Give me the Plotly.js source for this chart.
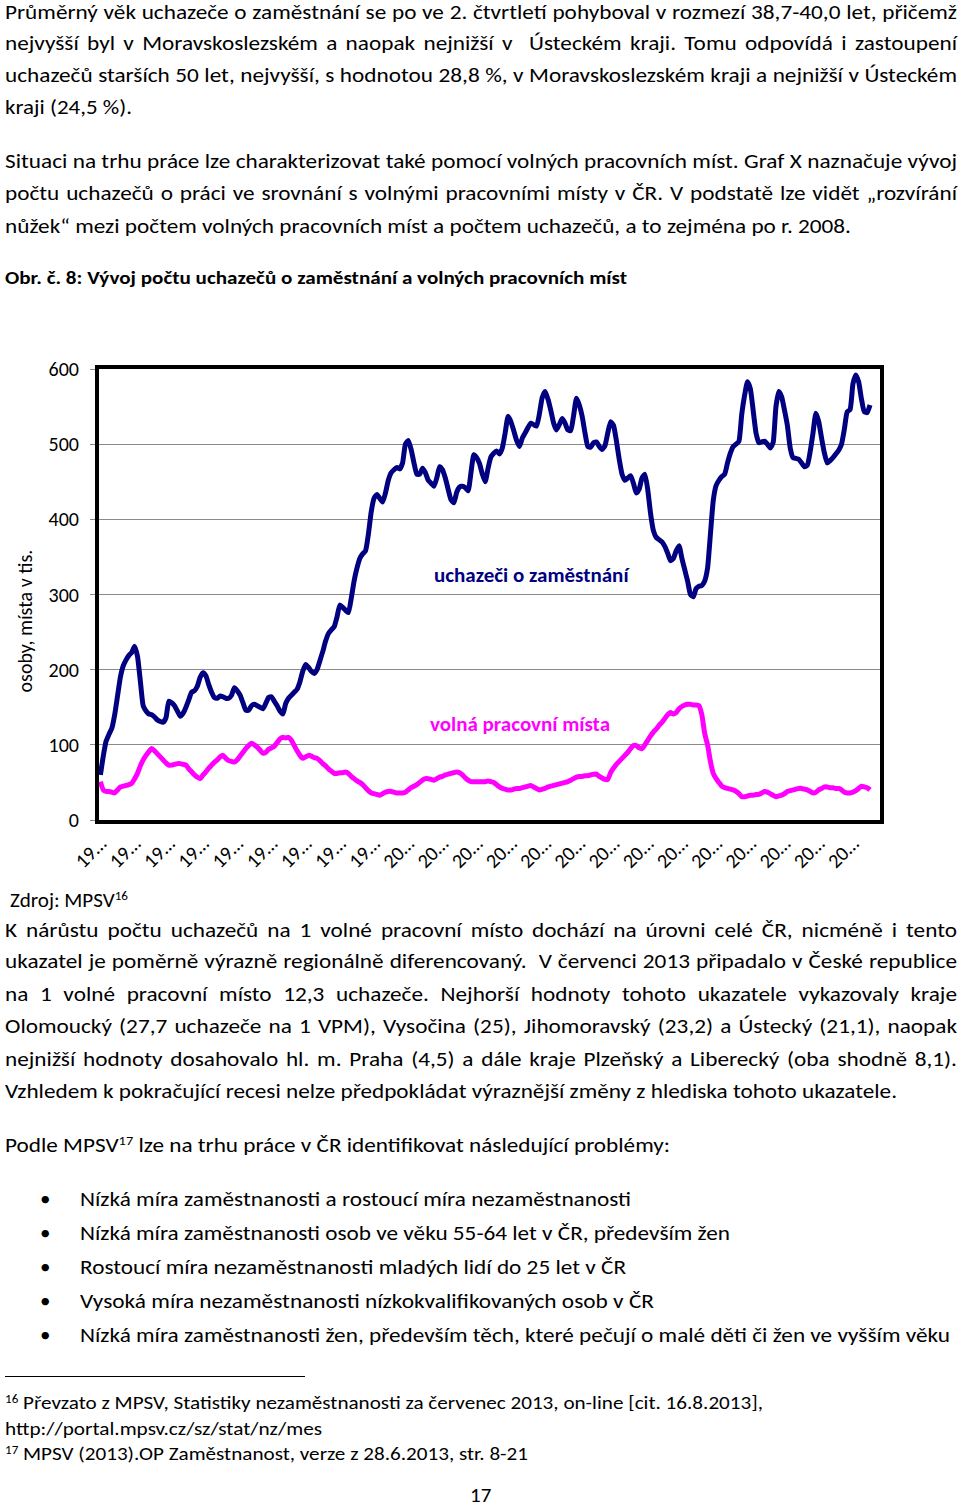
<!DOCTYPE html>
<html lang="cs">
<head>
<meta charset="utf-8">
<script src="https://cdn.plot.ly/plotly-3.0.1.min.js"></script>
<style>
  html, body { margin: 0; padding: 0; background: #fff; }
  body { width: 960px; height: 1505px; position: relative; overflow: hidden;
         font-family: Calibri, Carlito, Lato, sans-serif; color: #000; }
  .ln { position: absolute; white-space: pre; font-size: 21px; line-height: 24px;
        transform-origin: 0 50%; z-index: 2; }
  .b { font-weight: bold; font-size: 19px; }
  .fn { font-size: 19px; }
  .ln sup { font-size: 0.62em; position: relative; top: -0.55em; vertical-align: baseline; line-height: 0; }
  .bul { position: absolute; left: 40px; font-size: 21px; line-height: 24px; z-index: 2; }
  #rule { position: absolute; left: 5px; top: 1376px; width: 300px; height: 1px; background: #000; }
  #chart { position: absolute; left: 0; top: 330px; width: 960px; height: 560px; z-index: 1; }
</style>
</head>
<body>
<div class="ln j" data-w="952" style="left:5px;top:0px">Průměrný věk uchazeče o zaměstnání se po ve 2. čtvrtletí pohyboval v rozmezí 38,7-40,0 let, přičemž</div>
<div class="ln j" data-w="952" style="left:5px;top:31px">nejvyšší byl v Moravskoslezském a naopak nejnižší v  Ústeckém kraji. Tomu odpovídá i zastoupení</div>
<div class="ln j" data-w="952" style="left:5px;top:63px">uchazečů starších 50 let, nejvyšší, s hodnotou 28,8 %, v Moravskoslezském kraji a nejnižší v Ústeckém</div>
<div class="ln" data-w="127" style="left:5px;top:95px">kraji (24,5 %).</div>

<div class="ln j" data-w="952" style="left:5px;top:149px">Situaci na trhu práce lze charakterizovat také pomocí volných pracovních míst. Graf X naznačuje vývoj</div>
<div class="ln j" data-w="952" style="left:5px;top:181px">počtu uchazečů o práci ve srovnání s volnými pracovními místy v ČR. V podstatě lze vidět „rozvírání</div>
<div class="ln" data-w="846" style="left:5px;top:214px">nůžek“ mezi počtem volných pracovních míst a počtem uchazečů, a to zejména po r. 2008.</div>

<div class="ln b" data-w="622" style="left:5px;top:266px">Obr. č. 8: Vývoj počtu uchazečů o zaměstnání a volných pracovních míst</div>

<div id="chart"></div>

<div class="ln" data-w="118" style="left:10px;top:888px">Zdroj: MPSV<sup>16</sup></div>

<div class="ln j" data-w="952" style="left:5px;top:918px">K nárůstu počtu uchazečů na 1 volné pracovní místo dochází na úrovni celé ČR, nicméně i tento</div>
<div class="ln j" data-w="952" style="left:5px;top:949px">ukazatel je poměrně výrazně regionálně diferencovaný.  V červenci 2013 připadalo v České republice</div>
<div class="ln j" data-w="952" style="left:5px;top:982px">na 1 volné pracovní místo 12,3 uchazeče. Nejhorší hodnoty tohoto ukazatele vykazovaly kraje</div>
<div class="ln j" data-w="952" style="left:5px;top:1014px">Olomoucký (27,7 uchazeče na 1 VPM), Vysočina (25), Jihomoravský (23,2) a Ústecký (21,1), naopak</div>
<div class="ln j" data-w="952" style="left:5px;top:1047px">nejnižší hodnoty dosahovalo hl. m. Praha (4,5) a dále kraje Plzeňský a Liberecký (oba shodně 8,1).</div>
<div class="ln" data-w="892" style="left:5px;top:1079px">Vzhledem k pokračující recesi nelze předpokládat výraznější změny z hlediska tohoto ukazatele.</div>

<div class="ln" data-w="665" style="left:5px;top:1133px">Podle MPSV<sup>17</sup> lze na trhu práce v ČR identifikovat následující problémy:</div>

<div class="bul" style="top:1187px">•</div>
<div class="ln" data-w="551" style="left:80px;top:1187px">Nízká míra zaměstnanosti a rostoucí míra nezaměstnanosti</div>
<div class="bul" style="top:1221px">•</div>
<div class="ln" data-w="650" style="left:80px;top:1221px">Nízká míra zaměstnanosti osob ve věku 55-64 let v ČR, především žen</div>
<div class="bul" style="top:1255px">•</div>
<div class="ln" data-w="546" style="left:80px;top:1255px">Rostoucí míra nezaměstnanosti mladých lidí do 25 let v ČR</div>
<div class="bul" style="top:1289px">•</div>
<div class="ln" data-w="574" style="left:80px;top:1289px">Vysoká míra nezaměstnanosti nízkokvalifikovaných osob v ČR</div>
<div class="bul" style="top:1323px">•</div>
<div class="ln" data-w="870" style="left:80px;top:1323px">Nízká míra zaměstnanosti žen, především těch, které pečují o malé děti či žen ve vyšším věku</div>

<div id="rule"></div>
<div class="ln fn" data-w="758" style="left:5px;top:1391px"><sup>16</sup> Převzato z MPSV, Statistiky nezaměstnanosti za červenec 2013, on-line [cit. 16.8.2013],</div>
<div class="ln fn" data-w="317" style="left:5px;top:1417px">http://portal.mpsv.cz/sz/stat/nz/mes</div>
<div class="ln fn" data-w="523" style="left:5px;top:1442px"><sup>17</sup> MPSV (2013).OP Zaměstnanost, verze z 28.6.2013, str. 8-21</div>
<div class="ln" style="left:470px;top:1483px">17</div>

<script>
// ---- Data (thousands of persons), monthly Jan 1991 – Jul 2013 ----
var roky = [1991,1992,1993,1994,1995,1996,1997,1998,1999,2000,2001,2002,2003,2004,2005,2006,2007,2008,2009,2010,2011,2012,2013];
var tickLabels = ["19…","19…","19…","19…","19…","19…","19…","19…","19…",
                  "20…","20…","20…","20…","20…","20…","20…","20…","20…","20…","20…","20…","20…","20…"];

var uchazeci = [
  60, 85, 105, 114, 122, 140, 165, 190, 205, 213, 219, 223,   // 1991
  231, 218, 185, 152, 145, 141, 140, 137, 133, 131, 130, 136, // 1992
  158, 156, 152, 145, 138, 142, 150, 160, 170, 172, 178, 190, // 1993
  196, 192, 180, 170, 163, 162, 165, 164, 162, 162, 166, 176, // 1994
  172, 166, 156, 146, 146, 152, 154, 152, 150, 148, 155, 163, // 1995
  164, 158, 152, 145, 141, 155, 162, 166, 170, 174, 184, 198, // 1996
  207, 203, 198, 195, 200, 212, 224, 238, 248, 253, 257, 270, // 1997
  286, 283, 279, 276, 295, 318, 335, 348, 354, 358, 380, 410, // 1998
  428, 433, 428, 423, 435, 452, 462, 466, 469, 467, 475, 500, // 1999
  505, 493, 475, 460, 460, 468, 462, 452, 448, 444, 455, 470, // 2000
  466, 455, 440, 426, 422, 436, 443, 444, 442, 438, 462, 486, // 2001
  482, 474, 460, 450, 468, 483, 488, 491, 487, 495, 515, 537, // 2002
  530, 518, 505, 497, 508, 515, 522, 528, 526, 524, 540, 562, // 2003
  570, 560, 545, 528, 519, 526, 534, 528, 519, 518, 538, 561, // 2004
  552, 537, 515, 497, 496, 502, 503, 497, 493, 498, 515, 530, // 2005
  525, 505, 480, 460, 452, 455, 458, 448, 435, 440, 455, 460, // 2006
  440, 408, 385, 376, 373, 370, 364, 355, 345, 348, 358, 365, // 2007
  348, 333, 318, 300, 297, 308, 311, 312, 318, 335, 380, 425, // 2008
  445, 452, 457, 460, 475, 488, 497, 500, 504, 540, 565, 583, // 2009
  574, 545, 515, 502, 503, 504, 500, 495, 502, 550, 570, 563, // 2010
  545, 525, 495, 482, 481, 480, 475, 470, 472, 490, 515, 541, // 2011
  530, 508, 488, 475, 478, 482, 487, 492, 500, 520, 543, 546, // 2012
  580, 592, 583, 560, 543, 542, 552                          // 2013
];

var volnaMista = [
  51, 40, 38, 38, 37, 36, 40, 44, 45, 46, 47, 49,             // 1991
  55, 62, 72, 80, 86, 91, 95, 92, 88, 84, 80, 76,             // 1992
  73, 73, 74, 75, 75, 74, 73, 68, 64, 60, 57, 55,             // 1993
  60, 64, 69, 73, 77, 80, 84, 86, 82, 79, 78, 77,             // 1994
  80, 85, 90, 95, 99, 102, 100, 97, 93, 89, 90, 94,           // 1995
  96, 98, 103, 108, 110, 109, 110, 106, 99, 92, 86, 82,       // 1996
  84, 86, 85, 83, 82, 79, 75, 72, 68, 65, 62, 62,             // 1997
  63, 63, 64, 62, 58, 55, 52, 50, 47, 43, 39, 36,             // 1998
  35, 34, 33, 35, 37, 38, 38, 37, 36, 36, 36, 37,             // 1999
  40, 43, 45, 47, 50, 53, 55, 55, 54, 53, 55, 57,             // 2000
  58, 60, 61, 62, 63, 64, 63, 60, 56, 53, 51, 51,             // 2001
  51, 51, 51, 51, 52, 51, 50, 47, 44, 42, 41, 40,             // 2002
  40, 41, 42, 42, 43, 44, 45, 46, 44, 42, 40, 41,             // 2003
  42, 44, 45, 46, 47, 48, 49, 50, 51, 53, 55, 57,             // 2004
  58, 58, 59, 59, 60, 61, 61, 58, 56, 54, 54, 63,             // 2005
  69, 74, 78, 82, 86, 90, 95, 99, 99, 96, 95, 100,            // 2006
  106, 112, 117, 121, 126, 130, 135, 140, 143, 141, 143, 148, // 2007
  151, 153, 154, 154, 153, 153, 152, 140, 115, 100, 78, 62,   // 2008
  55, 50, 45, 43, 42, 41, 40, 38, 35, 31, 31, 32,             // 2009
  33, 33, 34, 34, 36, 38, 37, 35, 33, 31, 32, 33,             // 2010
  35, 38, 39, 40, 41, 42, 42, 41, 40, 38, 36, 37,             // 2011
  40, 42, 44, 44, 43, 43, 42, 42, 40, 37, 36, 36,             // 2012
  37, 39, 42, 45, 44, 43, 40                                  // 2013
];

var nazvySerii = ["uchazeči o zaměstnání", "volná pracovní místa"];

// Month categories (axis runs through Oct 2013)
var mesice = [];
roky.forEach(function (r) {
  for (var m = 1; m <= 12; m++) {
    if (r === 2013 && m > 10) break;
    mesice.push(r + "-" + (m < 10 ? "0" + m : m));
  }
});
var tickVals = roky.map(function (r) { return r + "-01"; });

var FONT = "Calibri, Carlito, Lato, sans-serif";

var traces = [
  { x: mesice.slice(0, uchazeci.length), y: uchazeci, type: "scatter", mode: "lines",
    name: nazvySerii[0], line: { color: "#000080", width: 5, shape: "spline", smoothing: 0.5 } },
  { x: mesice.slice(0, volnaMista.length), y: volnaMista, type: "scatter", mode: "lines",
    name: nazvySerii[1], line: { color: "#ff00ff", width: 5, shape: "spline", smoothing: 0.5 } }
];

var layout = {
  width: 960, height: 560,
  margin: { l: 99, r: 80, t: 39, b: 70, pad: 0 },
  paper_bgcolor: "rgba(0,0,0,0)",
  plot_bgcolor: "#ffffff",
  showlegend: false,
  font: { family: FONT, size: 20, color: "#000" },
  xaxis: {
    type: "category", categoryorder: "array", categoryarray: mesice,
    range: [-0.5, mesice.length - 0.5],
    tickmode: "array", tickvals: tickVals, ticktext: tickLabels,
    tickangle: -45, tickfont: { family: FONT, size: 20, color: "#000" },
    showgrid: false, zeroline: false, ticks: "",
    showline: true, mirror: true, linewidth: 4, linecolor: "#000"
  },
  yaxis: {
    range: [0, 600], tickmode: "linear", tick0: 0, dtick: 100,
    tickfont: { family: FONT, size: 20, color: "#000" },
    showgrid: true, gridcolor: "#8a8a8a", gridwidth: 1, zeroline: false,
    ticks: "outside", ticklen: 5, tickcolor: "#8a8a8a", ticklabelstandoff: 7,
    showline: true, mirror: true, linewidth: 4, linecolor: "#000"
  },
  annotations: [
    { text: "osoby, místa v tis.", xref: "paper", yref: "paper", x: -0.095, y: 0.442,
      xanchor: "center", yanchor: "middle", textangle: -90, showarrow: false,
      font: { family: FONT, size: 20, color: "#000" } },
    { text: "<b>" + nazvySerii[0] + "</b>", xref: "paper", yref: "paper", x: 0.554, y: 0.543,
      xanchor: "center", yanchor: "middle", showarrow: false,
      font: { family: FONT, size: 21, color: "#000080" } },
    { text: "<b>" + nazvySerii[1] + "</b>", xref: "paper", yref: "paper", x: 0.539, y: 0.213,
      xanchor: "center", yanchor: "middle", showarrow: false,
      font: { family: FONT, size: 21, color: "#ff00ff" } }
  ]
};

Plotly.newPlot("chart", traces, layout, { staticPlot: true, displayModeBar: false });

function fitLines() {
  var els = Array.prototype.slice.call(document.querySelectorAll(".ln"));
  var ratios = [];
  els.forEach(function (el) {
    el.style.wordSpacing = "";
    el.style.transform = "";
  });
  els.forEach(function (el) {
    if (!el.dataset.w) return;
    el._nat = el.getBoundingClientRect().width;
    if (!el.classList.contains("j") && el._nat) ratios.push(parseFloat(el.dataset.w) / el._nat);
  });
  ratios.sort(function (a, b) { return a - b; });
  var s = ratios.length ? ratios[Math.floor(ratios.length / 2)] : 1;
  els.forEach(function (el) {
    if (!el.dataset.w || !el._nat) return;
    var w = parseFloat(el.dataset.w), nat = el._nat;
    if (el.classList.contains("j")) {
      var n = (el.textContent.match(/ /g) || []).length;
      if (nat * s < w && n > 0) {
        el.style.transform = "scaleX(" + s + ")";
        el.style.wordSpacing = ((w / s - nat) / n) + "px";
      } else {
        el.style.transform = "scaleX(" + (w / nat) + ")";
      }
    } else {
      el.style.transform = "scaleX(" + (w / nat) + ")";
    }
  });
}
fitLines();
if (document.fonts && document.fonts.ready) document.fonts.ready.then(fitLines);
</script>
</body>
</html>
